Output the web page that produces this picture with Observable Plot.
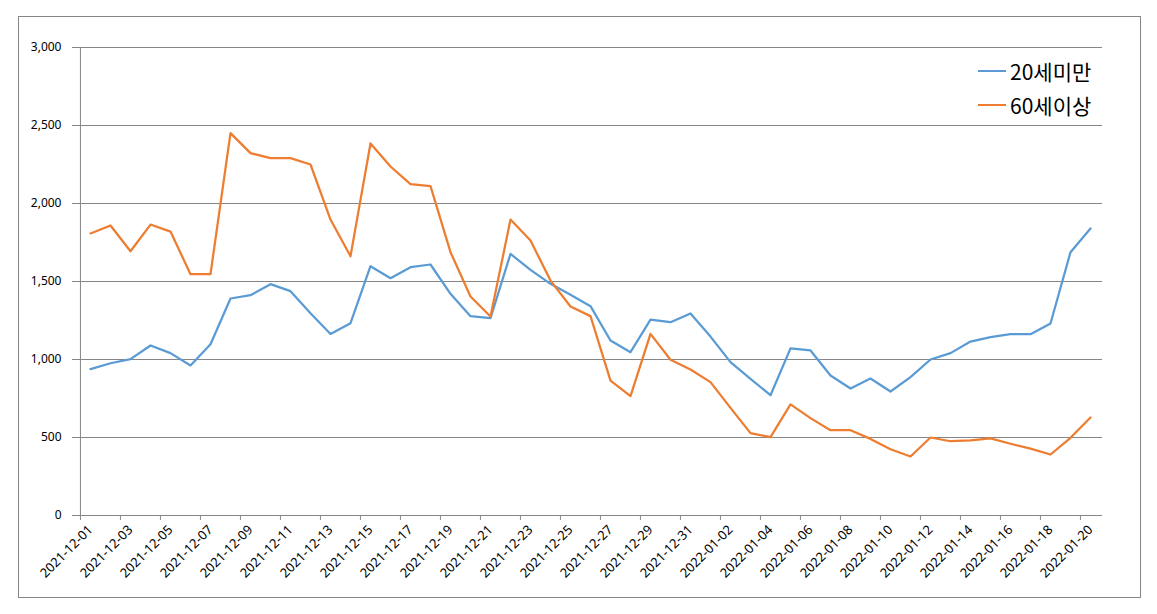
<!DOCTYPE html>
<html>
<head>
<meta charset="utf-8">
<script src="https://cdn.jsdelivr.net/npm/d3@7"></script>
<script src="https://cdn.jsdelivr.net/npm/@observablehq/plot@0.6"></script>
<style>
  html, body { margin: 0; padding: 0; background: #fff; }
  #wrap { position: relative; width: 1157px; height: 614px; overflow: hidden; }
  #frame { position: absolute; left: 18px; top: 16px; width: 1123px; height: 582px; box-sizing: border-box; border: 1px solid #868686; pointer-events: none; }
  #legend { position: absolute; left: 978px; top: 54px; font-family: "Noto Sans CJK KR", sans-serif; font-size: 21px; color: #000; }
  #legend .row { display: flex; align-items: center; height: 34px; }
  #legend .sw { width: 28px; height: 0; border-top: 2.25px solid; margin-right: 4px; }
  #chart { position: absolute; left: 0; top: 0; }
</style>
</head>
<body>
<div id="wrap">
  <div id="chart"></div>
  <div id="frame"></div>
  <div id="legend"></div>
</div>
<script>
const dates = [
  "2021-12-01","2021-12-02","2021-12-03","2021-12-04","2021-12-05","2021-12-06","2021-12-07","2021-12-08","2021-12-09","2021-12-10",
  "2021-12-11","2021-12-12","2021-12-13","2021-12-14","2021-12-15","2021-12-16","2021-12-17","2021-12-18","2021-12-19","2021-12-20",
  "2021-12-21","2021-12-22","2021-12-23","2021-12-24","2021-12-25","2021-12-26","2021-12-27","2021-12-28","2021-12-29","2021-12-30",
  "2021-12-31","2022-01-01","2022-01-02","2022-01-03","2022-01-04","2022-01-05","2022-01-06","2022-01-07","2022-01-08","2022-01-09",
  "2022-01-10","2022-01-11","2022-01-12","2022-01-13","2022-01-14","2022-01-15","2022-01-16","2022-01-17","2022-01-18","2022-01-19",
  "2022-01-20"
];
const under20 = [
  938, 976, 1002, 1090, 1041, 962, 1098, 1391, 1412, 1483,
  1438, 1297, 1164, 1233, 1598, 1521, 1592, 1609, 1421, 1278,
  1265, 1677, 1575, 1485, 1415, 1342, 1122, 1047, 1256, 1239,
  1295, 1147, 983, 876, 771, 1071, 1058, 897, 814, 878,
  795, 887, 1000, 1041, 1115, 1143, 1162, 1162, 1231, 1688,
  1840
];
const over60 = [
  1808, 1859, 1694, 1865, 1820, 1547, 1547, 2451, 2323, 2291,
  2291, 2250, 1897, 1662, 2385, 2237, 2124, 2111, 1688, 1404,
  1276, 1897, 1763, 1506, 1340, 1278, 865, 765, 1164, 998,
  936, 855, 690, 528, 502, 712, 624, 547, 547, 491,
  425, 378, 500, 476, 481, 494, 460, 429, 391, 498,
  628
];
const seriesNames = ["20세미만", "60세이상"];
const seriesColors = ["#5B9BD5", "#ED7D31"];
const yTicks = [0, 500, 1000, 1500, 2000, 2500, 3000];
const xTickLabels = [
  "2021-12-01","2021-12-03","2021-12-05","2021-12-07","2021-12-09","2021-12-11","2021-12-13","2021-12-15",
  "2021-12-17","2021-12-19","2021-12-21","2021-12-23","2021-12-25","2021-12-27","2021-12-29","2021-12-31",
  "2022-01-02","2022-01-04","2022-01-06","2022-01-08","2022-01-10","2022-01-12","2022-01-14","2022-01-16",
  "2022-01-18","2022-01-20"
];

const rows = dates.map((d, i) => ({date: d, a: under20[i], b: over60[i]}));

const W = 1157, H = 614, ML = 77, MR = 55, MT = 47, MB = 99;
const step = (W - ML - MR) / dates.length;
const gray = "#868686";
const font = "'Noto Sans', 'Noto Sans CJK KR', sans-serif";

const chart = Plot.plot({
  width: W, height: H,
  marginLeft: ML, marginRight: MR, marginTop: MT, marginBottom: MB,
  style: {fontFamily: font, fontSize: "12px", color: "#000", background: "transparent"},
  x: {type: "point", domain: dates, padding: 0.5, label: null},
  y: {domain: [0, 3000], label: null},
  marks: [
    Plot.gridY(yTicks, {stroke: gray, strokeOpacity: 1, strokeWidth: 1}),
    Plot.ruleX([dates[0]], {dx: -step / 2, y1: 0, y2: 3000, stroke: gray, strokeWidth: 1}),
    Plot.axisY(yTicks, {tickFormat: d3.format(","), tickSize: 5, tickPadding: 11, stroke: gray, fill: "#000", fontSize: 12, label: null}),
    Plot.axisX(xTickLabels, {tickSize: 5, tickFormat: () => "", dx: -step / 2, stroke: gray, label: null}),
    Plot.axisX(xTickLabels, {tickSize: 0, tickPadding: 12, tickRotate: -45, fill: "#000", fontSize: 13, label: null}),
    Plot.line(rows, {x: "date", y: "a", stroke: seriesColors[0], strokeWidth: 2.25}),
    Plot.line(rows, {x: "date", y: "b", stroke: seriesColors[1], strokeWidth: 2.25})
  ]
});
document.getElementById("chart").appendChild(chart);

const legend = document.getElementById("legend");
seriesNames.forEach((name, i) => {
  const row = document.createElement("div");
  row.className = "row";
  const sw = document.createElement("span");
  sw.className = "sw";
  sw.style.borderTopColor = seriesColors[i];
  const t = document.createElement("span");
  t.textContent = name;
  row.appendChild(sw); row.appendChild(t);
  legend.appendChild(row);
});
</script>
</body>
</html>
